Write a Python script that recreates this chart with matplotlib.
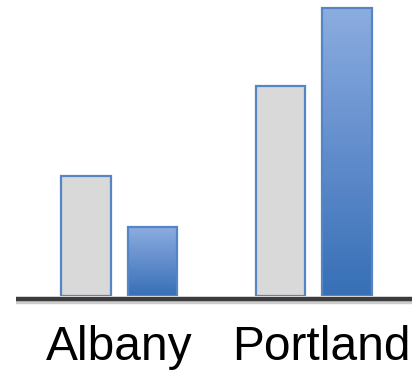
import numpy as np
import matplotlib
matplotlib.use("Agg")
import matplotlib.pyplot as plt
from matplotlib import patheffects as pe
from matplotlib.colors import LinearSegmentedColormap

# Category names and values for the two series
cities = ["Albany", "Portland"]
series_a = [120, 210]   # grey bars
series_b = [69, 288]    # blue gradient bars

plt.rcParams["font.family"] = ["Liberation Sans", "DejaVu Sans"]

fig = plt.figure(figsize=(4.12, 3.71), dpi=100)
ax = fig.add_axes([0.0, 75 / 371, 1.0, 296 / 371])
XLIM = (-0.612, 1.506)
YLIM = (0, 296)
ax.axis("off")

x = np.arange(len(cities))
width = 0.255
offset = 0.171

shadow = [pe.SimplePatchShadow(offset=(0, -1), shadow_rgbFace="#000000", alpha=0.12), pe.Normal()]

grey = ax.bar(x - offset, series_a, width, color="#d9d9d9", edgecolor="#5585c5",
              linewidth=1.6, zorder=3)
blue = ax.bar(x + offset, series_b, width, color="none", edgecolor="#5585c5",
              linewidth=1.6, zorder=4)
for b in grey:
    b.set_path_effects(shadow)

# Vertical gradient fill clipped to each blue bar
cmap = LinearSegmentedColormap.from_list("bluegrad", ["#3f7fd0", "#70a1e9", "#9fc5ff"])
grad = np.linspace(0, 1, 256).reshape(-1, 1)
for b in blue:
    x0, y0 = b.get_x(), b.get_y()
    w, h = b.get_width(), b.get_height()
    im = ax.imshow(grad, cmap=cmap, origin="lower", aspect="auto",
                   extent=(x0, x0 + w, y0, y0 + h), zorder=3.5)
    im.set_clip_path(b)
    b.set_path_effects(shadow)
ax.set_xlim(*XLIM)
ax.set_ylim(*YLIM)

# Baseline
ax.axhline(-3, xmin=16 / 412, xmax=1.0, color="#3c3c3c", linewidth=3.2, zorder=5,
           solid_capstyle="butt", clip_on=False,
           path_effects=[pe.SimpleLineShadow(offset=(0, -2), shadow_color="#000000", alpha=0.2),
                         pe.Normal()])

# Category labels under each group
label_shift = [0, 5.5]
for xi, name, dx in zip(x, cities, label_shift):
    ax.annotate(name, xy=(xi, -64), xytext=(dx, 0), textcoords="offset points",
                ha="center", va="baseline", fontsize=34.5, color="#000000",
                annotation_clip=False)

fig.savefig("out.png", dpi=100)
